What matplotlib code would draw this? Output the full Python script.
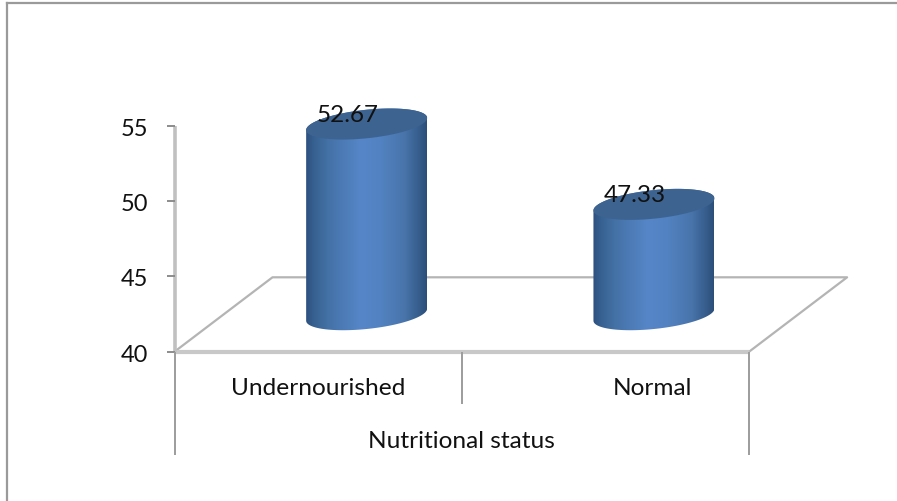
import matplotlib
matplotlib.use('Agg')
import matplotlib.pyplot as plt
import numpy as np
from matplotlib.colors import LinearSegmentedColormap
from matplotlib.patches import PathPatch
from matplotlib.path import Path

categories = ['Undernourished', 'Normal']
category_pos = [0.5, 1.665]
values = [52.67, 47.33]
y_ticks = [40, 45, 50, 55]
x_title = 'Nutritional status'

# sizes in pixels, converted to data units below
W, H = 897, 502
CAT_W = 287.3
X0 = 174.5
Y40 = 352.7
PX_PER_UNIT = 15.05

plt.rcParams['font.family'] = ['Lato', 'DejaVu Sans']

fig = plt.figure(figsize=(W / 100, H / 100), dpi=100)
ax = fig.add_axes([0, 0, 1, 1])
xlim = (-X0 / CAT_W, (W - X0) / CAT_W)
ylim = (40 - (H - Y40) / PX_PER_UNIT, 40 + Y40 / PX_PER_UNIT)
ax.axis('off')


def dx(px):
    return px / CAT_W


def dy(px):
    return px / PX_PER_UNIT


# outer frame: only the left and top edges fall inside the image
frame_top = 40 + dy(Y40 - 3.5)
ax.plot([dx(7.3 - X0)] * 2, [ylim[0], frame_top], color='#9a9a9a', lw=1.6)
ax.plot([dx(7.3 - X0), xlim[1]], [frame_top] * 2, color='#9a9a9a', lw=1.6)

# floor of the 3d plot
n = len(categories)
floor_x = [0, dx(98), n + dx(98), n]
floor_y = [40, 40 + dy(74.4), 40 + dy(74.4), 40]
ax.plot(floor_x, floor_y, color='#b4b4b4', lw=1.6, solid_capstyle='butt')
ax.plot([0, n], [40, 40], color='#c8c8c8', lw=3, solid_capstyle='butt')

# value axis and ticks
ax.plot([0, 0], [40, max(y_ticks)], color='#c0c0c0', lw=2.6, solid_capstyle='butt')
for t in y_ticks:
    ax.plot([dx(-8), 0], [t, t], color='#8c8c8c', lw=1.4, solid_capstyle='butt')
    ax.text(dx(-26), t - dy(2.5), str(t), ha='right', va='center', fontsize=17, color='#111111')

# category dividers below the floor
for pos, drop in [(0, 103), (n, 103), (1, 52)]:
    ax.plot([pos, pos], [40, 40 - dy(drop)], color='#9c9c9c', lw=1.4, solid_capstyle='butt')

for c, p in zip(categories, category_pos):
    ax.text(p, 40 - dy(35.5), c, ha='center', va='center', fontsize=17.6, color='#111111')
ax.text(n / 2, 40 - dy(88.5), x_title, ha='center', va='center', fontsize=17.6, color='#111111')

# cylinders
cmap = LinearSegmentedColormap.from_list('cyl', [
    (0.0, '#2d5180'), (0.06, '#36608f'), (0.18, '#4471a6'), (0.45, '#5686c8'),
    (0.62, '#5282c1'), (0.82, '#4874aa'), (0.95, '#345a88'), (1.0, '#2c4f7a')])
grad = np.linspace(0, 1, 256).reshape(1, -1)

A_PX, B_PX, SLOPE = 60.5, 14.3, 0.1
BASE_PX = 37
DEPTH_PX = 48.5
t = np.linspace(0, 2 * np.pi, 121)

for i, v in enumerate(values):
    cx = i + 0.5 + dx(DEPTH_PX)
    base = 40 + dy(BASE_PX)
    top = base + (v - 40)
    ex = dx(A_PX) * np.cos(t)
    ey = dy(B_PX) * np.sin(t) + dy(SLOPE * A_PX) * np.cos(t)

    # side wall: lower half of the base ellipse plus the upper half at the top
    lower = t[t >= np.pi]
    low_x = cx + dx(A_PX) * np.cos(lower)
    low_y = base + dy(B_PX) * np.sin(lower) + dy(SLOPE * A_PX) * np.cos(lower)
    upper = t[t <= np.pi]
    up_x = cx + dx(A_PX) * np.cos(upper)
    up_y = top + dy(B_PX) * np.sin(upper) + dy(SLOPE * A_PX) * np.cos(upper)
    verts = np.column_stack([np.r_[low_x, up_x], np.r_[low_y, up_y]])
    wall = PathPatch(Path(np.vstack([verts, verts[0]])), fc='none', ec='none')
    ax.add_patch(wall)
    im = ax.imshow(grad, cmap=cmap, aspect='auto', zorder=3, interpolation='bilinear',
                   extent=[cx - dx(A_PX), cx + dx(A_PX), base - dy(30), top + dy(30)])
    im.set_clip_path(wall)

    ax.fill(cx + ex, top + ey, color='#3d6391', zorder=4, lw=0)
    ax.text(cx + dx(-19), top + dy(10), f'{v:.2f}', ha='center', va='center',
            fontsize=17.5, color='#111111', zorder=5)

ax.set_xlim(xlim)
ax.set_ylim(ylim)
fig.savefig('out.png', dpi=100, facecolor='white')
